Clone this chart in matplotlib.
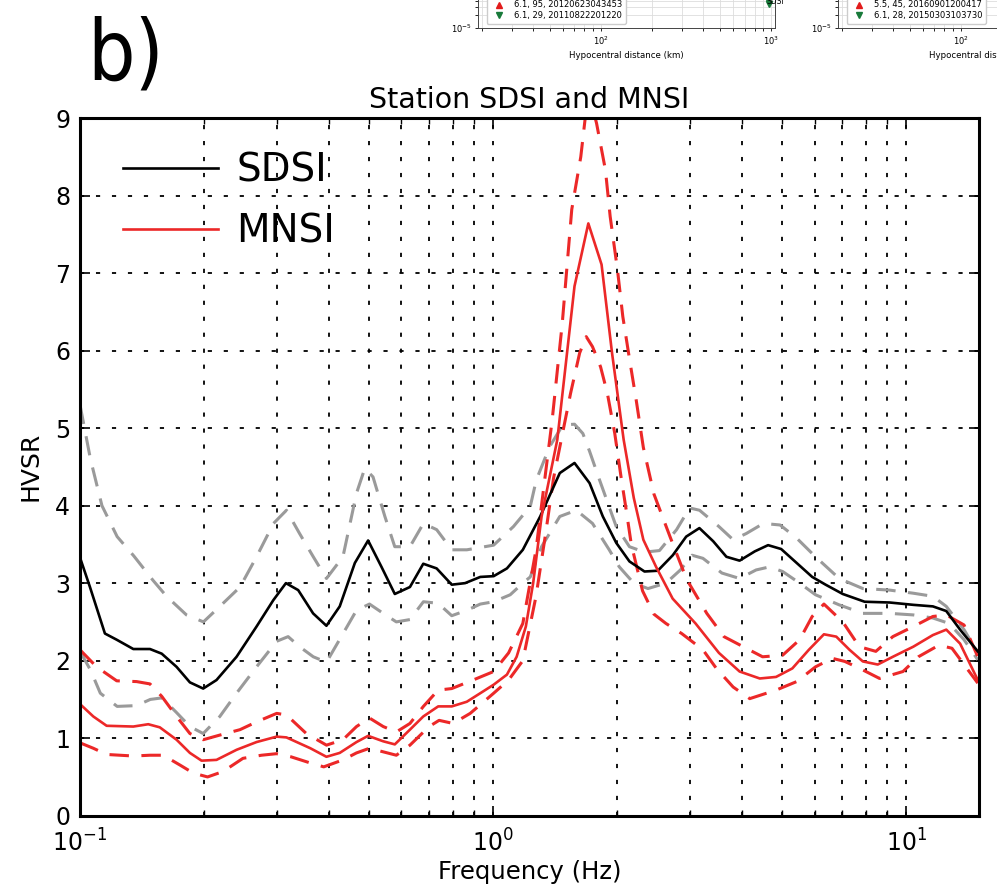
import numpy as np
import matplotlib
matplotlib.use('Agg')
import matplotlib.pyplot as plt
from matplotlib.ticker import LogLocator, NullFormatter, FixedLocator
from matplotlib.lines import Line2D

# --- Data ---
# -----------------------------------------------------------------------------
SDSI_F = [0.1, 0.1057, 0.1149, 0.1227, 0.1346, 0.1477, 0.1577, 0.1713, 0.1845, 0.1987,
          0.214, 0.2393, 0.2675, 0.2937, 0.3151, 0.3374, 0.3666, 0.3949, 0.4253, 0.4627,
          0.4982, 0.5367, 0.5781, 0.629, 0.6775, 0.7298, 0.7941, 0.8553, 0.9309, 1.003,
          1.08, 1.18, 1.30, 1.45, 1.574, 1.712, 1.843, 1.986, 2.138, 2.325, 2.503, 2.722,
          2.933, 3.157, 3.41, 3.67, 3.95, 4.30, 4.63, 4.98, 5.43, 5.92, 6.38, 7.02, 7.93,
          9.12, 10.4, 11.6, 12.5, 13.5, 14.9]
SDSI = [3.33, 2.95, 2.35, 2.27, 2.15, 2.15, 2.09, 1.92, 1.72, 1.64,
        1.75, 2.05, 2.44, 2.78, 3.0, 2.91, 2.61, 2.45, 2.70, 3.26,
        3.55, 3.21, 2.86, 2.95, 3.25, 3.19, 2.98, 3.0, 3.08, 3.09,
        3.19, 3.43, 3.86, 4.42, 4.55, 4.29, 3.86, 3.52, 3.28, 3.15, 3.16, 3.36,
        3.60, 3.71, 3.54, 3.34, 3.29, 3.41, 3.49, 3.44, 3.26, 3.08, 2.98, 2.86, 2.76,
        2.75, 2.72, 2.70, 2.64, 2.40, 2.12]

SDSI_HI_F = [0.1, 0.106, 0.113, 0.123, 0.135, 0.150, 0.162, 0.181, 0.199, 0.222,
             0.244, 0.2675, 0.294, 0.316, 0.340, 0.367, 0.395, 0.433, 0.467, 0.489,
             0.512, 0.547, 0.578, 0.629, 0.678, 0.730, 0.794, 0.864, 1.003, 1.12,
             1.23, 1.272, 1.370, 1.475, 1.574, 1.649, 1.712, 1.810, 1.986, 2.138,
             2.325, 2.527, 2.78, 2.99, 3.16, 3.52, 3.81, 4.10, 4.51, 4.95, 5.43,
             6.03, 6.88, 7.85, 9.12, 10.4, 11.6, 12.5, 13.8, 14.9]
SDSI_HI = [5.3, 4.6, 4.0, 3.6, 3.35, 3.04, 2.83, 2.59, 2.50, 2.74,
           2.95, 3.34, 3.77, 3.94, 3.64, 3.34, 3.06, 3.34, 4.16, 4.48,
           4.37, 3.86, 3.47, 3.47, 3.77, 3.69, 3.43, 3.43, 3.49, 3.73,
           3.99, 4.33, 4.76, 5.04, 5.05, 4.93, 4.70, 4.33, 3.73, 3.47,
           3.40, 3.42, 3.69, 3.97, 3.94, 3.73, 3.56, 3.64, 3.77, 3.75, 3.58,
           3.34, 3.06, 2.93, 2.91, 2.87, 2.83, 2.70, 2.40, 2.10]

SDSI_LO_F = [0.1, 0.106, 0.112, 0.123, 0.137, 0.148, 0.158, 0.1713, 0.1845, 0.1987,
             0.218, 0.2393, 0.2675, 0.2993, 0.319, 0.340, 0.367, 0.395, 0.429, 0.467,
             0.502, 0.542, 0.583, 0.629, 0.678, 0.736, 0.794, 0.864, 0.931, 1.003,
             1.10, 1.18, 1.23, 1.31, 1.45, 1.59, 1.74, 1.91, 2.02, 2.19, 2.37, 2.62,
             2.84, 3.03, 3.22, 3.58, 3.95, 4.33, 4.67, 5.02, 5.52, 6.03, 6.88, 7.85,
             9.12, 10.4, 11.6, 12.7, 13.8, 14.9]
SDSI_LO = [2.12, 1.88, 1.58, 1.41, 1.42, 1.50, 1.52, 1.33, 1.15, 1.06,
           1.28, 1.58, 1.92, 2.25, 2.31, 2.18, 2.05, 1.98, 2.31, 2.65,
           2.73, 2.61, 2.50, 2.53, 2.76, 2.74, 2.58, 2.65, 2.73, 2.76,
           2.85, 3.0, 3.08, 3.47, 3.86, 3.94, 3.77, 3.43, 3.21, 3.0, 2.93, 3.0,
           3.17, 3.36, 3.32, 3.13, 3.06, 3.17, 3.21, 3.15, 3.0, 2.85, 2.72, 2.61,
           2.61, 2.59, 2.55, 2.48, 2.27, 2.01]

MNSI_F = [0.1, 0.1077, 0.116, 0.1346, 0.1463, 0.156, 0.1713, 0.1845, 0.1969, 0.214,
          0.2393, 0.2675, 0.2993, 0.316, 0.3611, 0.3949, 0.4253, 0.467, 0.4982, 0.5418,
          0.5781, 0.629, 0.6775, 0.7363, 0.7941, 0.8636, 0.9309, 1.003, 1.08, 1.14,
          1.20, 1.25, 1.31, 1.43, 1.574, 1.70, 1.83, 1.94, 2.07, 2.19, 2.31, 2.48,
          2.72, 3.09, 3.52, 3.95, 4.42, 4.84, 5.30, 5.81, 6.32, 6.77, 7.29, 7.85,
          8.53, 9.28, 10.4, 11.6, 12.5, 13.5, 14.9]
MNSI = [1.44, 1.28, 1.16, 1.15, 1.18, 1.14, 0.98, 0.81, 0.71, 0.72,
        0.85, 0.95, 1.02, 1.01, 0.87, 0.76, 0.81, 0.95, 1.03, 0.96,
        0.92, 1.11, 1.28, 1.41, 1.41, 1.47, 1.58, 1.69, 1.82, 2.05,
        2.44, 3.0, 3.86, 4.85, 6.83, 7.64, 7.11, 5.97, 4.85, 4.10, 3.56, 3.21,
        2.80, 2.48, 2.10, 1.86, 1.77, 1.79, 1.90, 2.14, 2.34, 2.31, 2.14, 1.99,
        1.95, 2.05, 2.18, 2.33, 2.40, 2.22, 1.75]

MNSI_HI_F = [0.1, 0.1097, 0.1227, 0.1371, 0.1477, 0.1577, 0.1713, 0.1845, 0.1987, 0.218,
             0.244, 0.2675, 0.2993, 0.316, 0.353, 0.395, 0.433, 0.467, 0.502, 0.542,
             0.583, 0.629, 0.678, 0.736, 0.794, 0.894, 1.003, 1.09, 1.18, 1.27,
             1.33, 1.39, 1.47, 1.55, 1.63, 1.70, 1.78, 1.87, 1.92, 2.0, 2.06, 2.14,
             2.22, 2.31, 2.45, 2.68, 2.94, 3.29, 3.62, 4.03, 4.49, 5.02, 5.52, 5.92,
             6.32, 7.02, 7.7, 8.44, 9.28, 10.4, 11.6, 12.5, 13.8, 14.9]
MNSI_HI = [2.14, 1.92, 1.74, 1.73, 1.70, 1.54, 1.28, 1.06, 0.98, 1.04,
           1.11, 1.21, 1.32, 1.30, 1.06, 0.91, 0.98, 1.15, 1.26, 1.15,
           1.08, 1.19, 1.41, 1.62, 1.64, 1.75, 1.86, 2.10, 2.48, 3.43,
           4.29, 5.11, 6.35, 7.82, 8.50, 9.35, 8.93, 8.33, 7.73, 7.04, 6.44, 5.88,
           5.36, 4.75, 4.15, 3.60, 3.05, 2.61, 2.31, 2.18, 2.05, 2.07, 2.27, 2.57,
           2.73, 2.50, 2.18, 2.12, 2.31, 2.44, 2.57, 2.59, 2.46, 2.05]

MNSI_LO_F = [0.1, 0.1077, 0.116, 0.1346, 0.1477, 0.159, 0.175, 0.188, 0.2036, 0.222,
             0.248, 0.275, 0.299, 0.324, 0.361, 0.389, 0.433, 0.467, 0.502, 0.583,
             0.629, 0.70, 0.74, 0.80, 0.88, 1.003, 1.09, 1.18, 1.27, 1.34,
             1.40, 1.54, 1.62, 1.68, 1.74, 1.82, 1.89, 1.97, 2.04, 2.10, 2.16, 2.30,
             2.45, 2.62, 2.86, 3.22, 3.47, 3.81, 4.18, 4.84, 5.43, 6.03, 6.62, 7.1,
             7.85, 8.62, 9.82, 10.7, 12.0, 12.9, 14.9]
MNSI_LO = [0.94, 0.87, 0.79, 0.77, 0.78, 0.78, 0.65, 0.55, 0.50, 0.57,
           0.74, 0.78, 0.80, 0.76, 0.68, 0.63, 0.72, 0.81, 0.87, 0.78,
           0.91, 1.15, 1.23, 1.19, 1.32, 1.58, 1.75, 2.0, 2.83, 3.64,
           4.35, 5.45, 5.97, 6.18, 6.05, 5.79, 5.45, 4.93, 4.37, 3.94, 3.50, 2.90,
           2.60, 2.48, 2.35, 2.14, 1.90, 1.66, 1.51, 1.62, 1.73, 1.92, 2.03, 1.99,
           1.88, 1.77, 1.86, 2.05, 2.20, 2.16, 1.71]

Y_TICKS = [0, 1, 2, 3, 4, 5, 6, 7, 8, 9]

# small pieces of the neighbouring panels that show at the top of the picture
FRAG_LEFT_LABELS = ['6.1, 95, 20120623043453', '6.1, 29, 20110822201220']
FRAG_RIGHT_LABELS = ['5.5, 45, 20160901200417', '6.1, 28, 20150303103730']
FRAG_STATION_X = [960, 975]
FRAG_STATION_Y = [4.2e-5, 3.4e-5]

# --- Style ---
# -----------------------------------------------------------------------------
RED = '#ec2828'
GREY = '#9a9a9a'
plt.rcParams['font.family'] = ['DejaVu Sans']
plt.rcParams['lines.scale_dashes'] = False
DASH = (0, (14, 9))

fig = plt.figure(figsize=(9.97, 8.91), dpi=100)


def fragment(left, labels):
    """Clipped corner of a neighbouring panel (only its bottom edge is visible)."""
    ax = fig.add_axes([left, 1 - 28 / 891, 0.298, 0.1])
    ax.set_xscale('log')
    ax.set_yscale('log')
    ax.set_xlim(19, 1055)
    ax.set_ylim(1e-5, 1e-3)
    ax.grid(True, which='both', color='#dddddd', lw=0.6)
    ax.tick_params(labelsize=6, length=2.5, width=0.6, pad=2)
    ax.yaxis.set_major_locator(FixedLocator([1e-5]))
    ax.yaxis.set_minor_formatter(NullFormatter())
    for s in ax.spines.values():
        s.set_linewidth(0.7)
        s.set_color('#444444')
    ax.set_xlabel('Hypocentral distance (km)', fontsize=6.2, labelpad=3)
    handles = [Line2D([], [], ls='none', marker='^', color='#e21b1b', ms=4.5),
               Line2D([], [], ls='none', marker='v', color='#187a3a', ms=4.5)]
    ax.legend(handles, labels, loc='lower left', fontsize=6, frameon=True,
              bbox_to_anchor=(0.015, 0.0), handletextpad=0.8, labelspacing=0.2,
              borderpad=0.45, edgecolor='#cccccc', framealpha=1)
    return ax


frag = fragment(478 / 997, FRAG_LEFT_LABELS)
frag.plot(FRAG_STATION_X, FRAG_STATION_Y, ls='none', marker='v', color='#187a3a', ms=5)
frag.text(940, 4.0e-5, 'SDSI', fontsize=5.5, va='center', ha='left', clip_on=False)
fragment(838 / 997, FRAG_RIGHT_LABELS)

fig.text(87 / 997, 1 - 79 / 891, 'b)', fontsize=60, va='baseline', ha='left',
         fontstretch='condensed')

# --- Main panel ---
# -----------------------------------------------------------------------------
ax = fig.add_axes([80 / 997, 1 - 815.7 / 891, 899 / 997, 697.7 / 891])
ax.set_xscale('log')

ax.plot(SDSI_HI_F, SDSI_HI, color=GREY, lw=2.2, ls=DASH)
ax.plot(SDSI_LO_F, SDSI_LO, color=GREY, lw=2.2, ls=DASH)
ax.plot(MNSI_HI_F, MNSI_HI, color=RED, lw=2.2, ls=DASH)
ax.plot(MNSI_LO_F, MNSI_LO, color=RED, lw=2.2, ls=DASH)
ax.plot(SDSI_F, SDSI, color='black', lw=1.9, label='SDSI')
ax.plot(MNSI_F, MNSI, color=RED, lw=1.9, label='MNSI')

ax.set_xlim(0.1, 15)
ax.set_ylim(0, 9)
ax.set_yticks(Y_TICKS)
ax.xaxis.set_major_locator(LogLocator(base=10, numticks=10))
ax.xaxis.set_minor_locator(LogLocator(base=10, subs=np.arange(2, 10), numticks=20))
ax.xaxis.set_minor_formatter(NullFormatter())

ax.grid(True, which='major', color='black', lw=1.3, ls=(0, (3, 8.5)))
ax.grid(True, which='minor', axis='x', color='black', lw=1.3, ls=(0, (3, 8.5)))
ax.tick_params(which='both', direction='in', top=True, right=True, labelsize=17)
ax.tick_params(axis='x', pad=10)
ax.tick_params(axis='y', pad=7)
ax.tick_params(which='major', length=7, width=1.2)
ax.tick_params(which='minor', length=4, width=1.0)
for s in ax.spines.values():
    s.set_linewidth(2.2)

ax.set_title('Station SDSI and MNSI', fontsize=20.5, pad=7)
ax.set_xlabel('Frequency (Hz)', fontsize=17.5, labelpad=2)
ax.set_ylabel('HVSR', fontsize=18, labelpad=9)

ax.legend(loc='upper left', frameon=False, fontsize=28, handlelength=2.42,
          handletextpad=0.49, labelspacing=0.6, borderaxespad=0.3,
          bbox_to_anchor=(0.018, 0.991))

fig.savefig('out.png', dpi=100)
